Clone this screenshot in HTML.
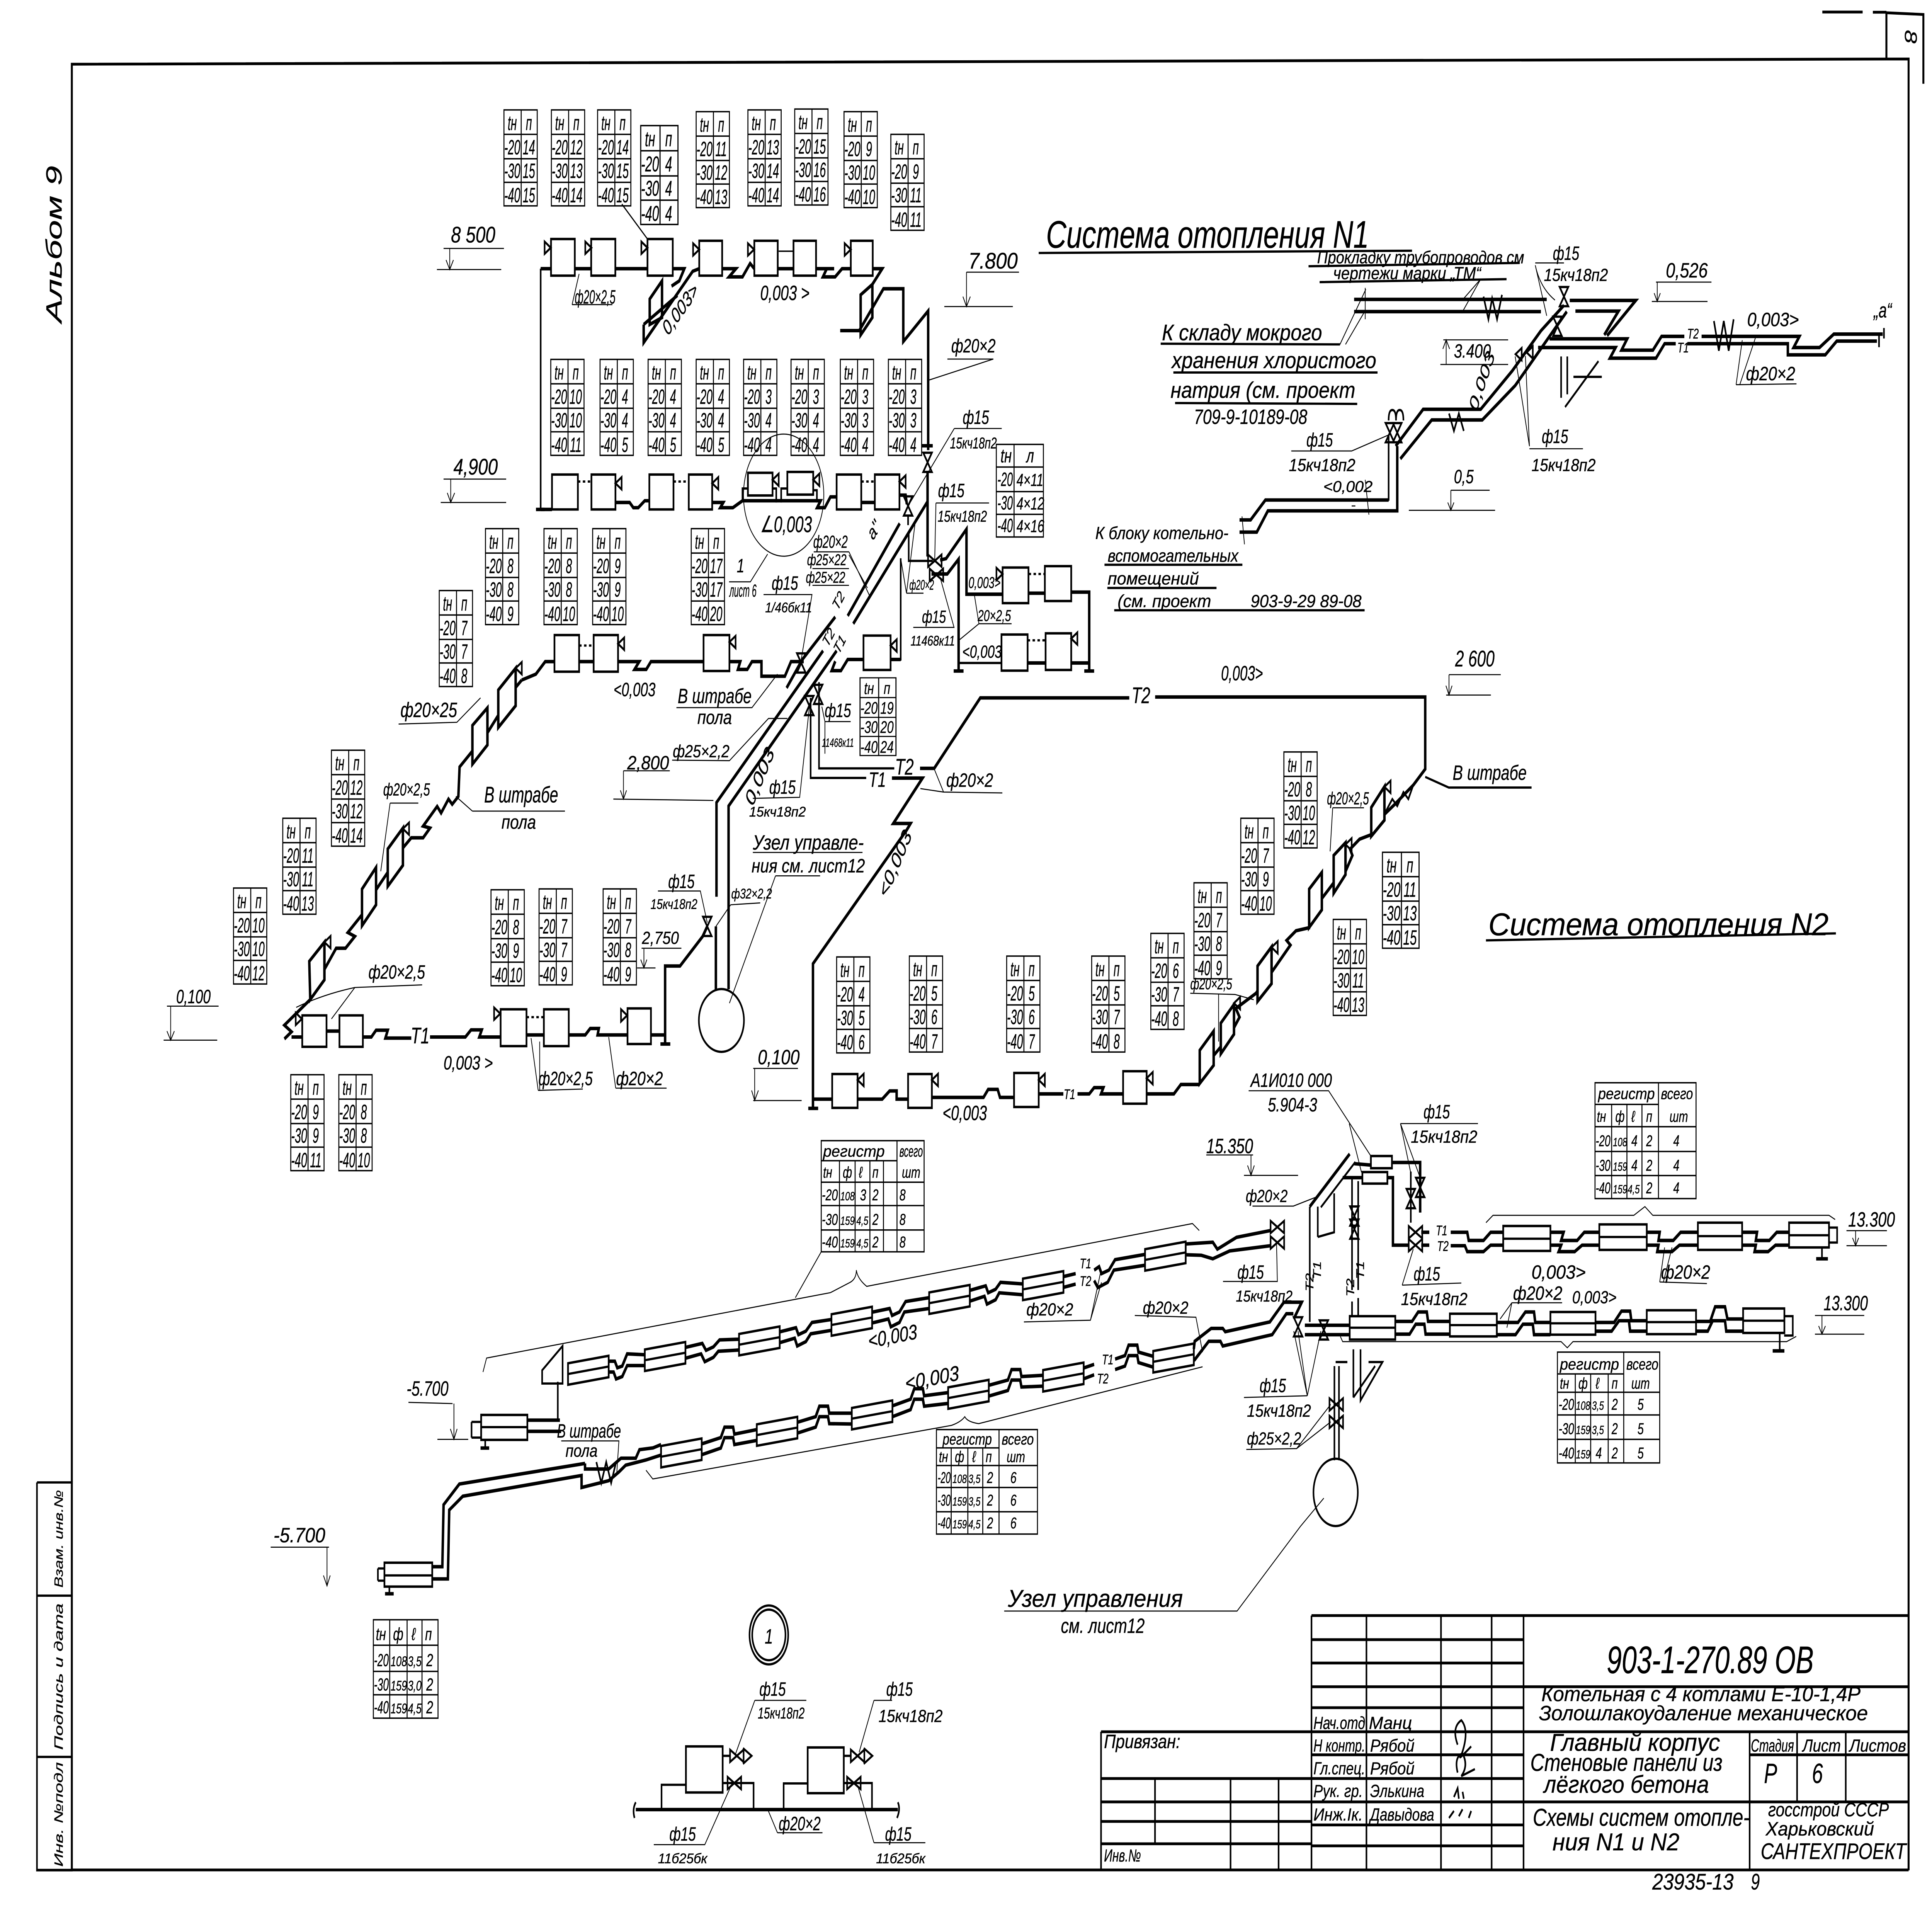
<!DOCTYPE html>
<html lang="ru"><head><meta charset="utf-8"><title>Схемы систем отопления</title>
<style>
html,body{margin:0;padding:0;background:#fff;width:100%;height:100%;overflow:hidden}
svg{display:block;width:100vw;height:100vh}
text{font-family:"Liberation Sans","DejaVu Sans",sans-serif;font-style:italic;fill:#000;stroke:#000;stroke-width:.12}
.a{text-anchor:middle}
.k text,text.k{text-anchor:middle;font-size:12px}
.f7{font-size:7px}.f8{font-size:8px}.f9{font-size:9px}.f10{font-size:10px}.f11{font-size:11px}.f12{font-size:12px}.f13{font-size:13px}.f14{font-size:14px}.f16{font-size:16px}.f18{font-size:18px}.f22{font-size:22px}.f26{font-size:26px}
path,line,rect,ellipse,polygon{fill:none;stroke:#000}
.p{stroke-width:2}.m{stroke-width:1.3}.t{stroke-width:.6}.g{stroke-width:.8}.fr{stroke-width:1.6}
.w{fill:#fff;stroke-width:1.4}
.b{fill:#000;stroke-width:.5}
symbol{overflow:visible}
</style></head><body>
<svg xmlns="http://www.w3.org/2000/svg" viewBox="0 0 1568 1098.2" preserveAspectRatio="none">
<symbol id="g" style="overflow:visible"><rect class="g" x="0" y="0" width="27" height="55"/><path class="g" d="M14 0V55M0 14H27M0 28H27M0 41.500H27"/></symbol>
<symbol id="vv" style="overflow:visible"><path class="m" d="M-3.500 -5.500H3.500L-3.500 5.500H3.500Z"/></symbol>
<symbol id="vh" style="overflow:visible"><path class="m" d="M-5.500 -3.500V3.500L5.500 -3.500V3.500Z"/></symbol>
<symbol id="tr" style="overflow:visible"><path class="m" d="M0 0L-5 -3.500V3.500Z"/></symbol>
<symbol id="tl" style="overflow:visible"><path class="m" d="M0 0L5 -3.500V3.500Z"/></symbol>
<symbol id="r" style="overflow:visible"><path class="w" d="M-16.500 -4L16.500 -8.300V4L-16.500 8.300Z"/><path class="m" d="M-16.500 2.150L16.500 -2.150"/></symbol>
<rect x="0" y="0" width="1568" height="1098" style="fill:#fff;stroke:none"/>

<!-- sheet frame -->
<path class="fr" d="M58.300 1072V36.800L1549 33.800V1072M58.300 1071.800H1549"/>
<path class="fr" d="M1531 33.800V7.300L1561 8.300V34.500M1561 34.500V48M1479 6.900H1511.700M1520 7H1531"/>
<text class="a f14" transform="translate(1546 21) rotate(90)">8</text>
<text class="f18" transform="translate(50 185) rotate(-90)" textLength="90" lengthAdjust="spacingAndGlyphs">Альбом 9</text>

<!-- left stamp -->
<path class="m" d="M30 849.700H59M30 914.600H59M30 1007H59M30 849.700V1072H59M30 1071.800H59"/>
<text class="a f10" transform="translate(51 882) rotate(-90)" textLength="56" lengthAdjust="spacingAndGlyphs">Взам. инв.№</text>
<text class="a f10" transform="translate(51 961) rotate(-90)" textLength="84" lengthAdjust="spacingAndGlyphs">Подпись и дата</text>
<text class="a f10" transform="translate(51 1040) rotate(-90)" textLength="60" lengthAdjust="spacingAndGlyphs">Инв. №подл</text>

<!-- tables: two column -->
<g transform="translate(409 63)"><use href="#g"/><g class="k" transform="scale(.75 1)"><text><tspan x="9" y="11.500">tн</tspan><tspan x="27">п</tspan><tspan x="9" y="25.500">-20</tspan><tspan x="27">14</tspan><tspan x="9" y="39">-30</tspan><tspan x="27">15</tspan><tspan x="9" y="53">-40</tspan><tspan x="27">15</tspan></text></g></g>
<g transform="translate(447.500 63)"><use href="#g"/><g class="k" transform="scale(.75 1)"><text><tspan x="9" y="11.500">tн</tspan><tspan x="27">п</tspan><tspan x="9" y="25.500">-20</tspan><tspan x="27">12</tspan><tspan x="9" y="39">-30</tspan><tspan x="27">13</tspan><tspan x="9" y="53">-40</tspan><tspan x="27">14</tspan></text></g></g>
<g transform="translate(485 63)"><use href="#g"/><g class="k" transform="scale(.75 1)"><text><tspan x="9" y="11.500">tн</tspan><tspan x="27">п</tspan><tspan x="9" y="25.500">-20</tspan><tspan x="27">14</tspan><tspan x="9" y="39">-30</tspan><tspan x="27">15</tspan><tspan x="9" y="53">-40</tspan><tspan x="27">15</tspan></text></g></g>
<g transform="translate(520 72) scale(1.120 1.030)"><use href="#g"/><g class="k" transform="scale(.75 1)"><text><tspan x="9" y="11.500">tн</tspan><tspan x="27">п</tspan><tspan x="9" y="25.500">-20</tspan><tspan x="27">4</tspan><tspan x="9" y="39">-30</tspan><tspan x="27">4</tspan><tspan x="9" y="53">-40</tspan><tspan x="27">4</tspan></text></g></g>
<g transform="translate(565 64)"><use href="#g"/><g class="k" transform="scale(.75 1)"><text><tspan x="9" y="11.500">tн</tspan><tspan x="27">п</tspan><tspan x="9" y="25.500">-20</tspan><tspan x="27">11</tspan><tspan x="9" y="39">-30</tspan><tspan x="27">12</tspan><tspan x="9" y="53">-40</tspan><tspan x="27">13</tspan></text></g></g>
<g transform="translate(607 63)"><use href="#g"/><g class="k" transform="scale(.75 1)"><text><tspan x="9" y="11.500">tн</tspan><tspan x="27">п</tspan><tspan x="9" y="25.500">-20</tspan><tspan x="27">13</tspan><tspan x="9" y="39">-30</tspan><tspan x="27">14</tspan><tspan x="9" y="53">-40</tspan><tspan x="27">14</tspan></text></g></g>
<g transform="translate(645 62.500)"><use href="#g"/><g class="k" transform="scale(.75 1)"><text><tspan x="9" y="11.500">tн</tspan><tspan x="27">п</tspan><tspan x="9" y="25.500">-20</tspan><tspan x="27">15</tspan><tspan x="9" y="39">-30</tspan><tspan x="27">16</tspan><tspan x="9" y="53">-40</tspan><tspan x="27">16</tspan></text></g></g>
<g transform="translate(685 64)"><use href="#g"/><g class="k" transform="scale(.75 1)"><text><tspan x="9" y="11.500">tн</tspan><tspan x="27">п</tspan><tspan x="9" y="25.500">-20</tspan><tspan x="27">9</tspan><tspan x="9" y="39">-30</tspan><tspan x="27">10</tspan><tspan x="9" y="53">-40</tspan><tspan x="27">10</tspan></text></g></g>
<g transform="translate(723 77)"><use href="#g"/><g class="k" transform="scale(.75 1)"><text><tspan x="9" y="11.500">tн</tspan><tspan x="27">п</tspan><tspan x="9" y="25.500">-20</tspan><tspan x="27">9</tspan><tspan x="9" y="39">-30</tspan><tspan x="27">11</tspan><tspan x="9" y="53">-40</tspan><tspan x="27">11</tspan></text></g></g>
<g transform="translate(447 206)"><use href="#g"/><g class="k" transform="scale(.75 1)"><text><tspan x="9" y="11.500">tн</tspan><tspan x="27">п</tspan><tspan x="9" y="25.500">-20</tspan><tspan x="27">10</tspan><tspan x="9" y="39">-30</tspan><tspan x="27">10</tspan><tspan x="9" y="53">-40</tspan><tspan x="27">11</tspan></text></g></g>
<g transform="translate(487 206)"><use href="#g"/><g class="k" transform="scale(.75 1)"><text><tspan x="9" y="11.500">tн</tspan><tspan x="27">п</tspan><tspan x="9" y="25.500">-20</tspan><tspan x="27">4</tspan><tspan x="9" y="39">-30</tspan><tspan x="27">4</tspan><tspan x="9" y="53">-40</tspan><tspan x="27">5</tspan></text></g></g>
<g transform="translate(526 206)"><use href="#g"/><g class="k" transform="scale(.75 1)"><text><tspan x="9" y="11.500">tн</tspan><tspan x="27">п</tspan><tspan x="9" y="25.500">-20</tspan><tspan x="27">4</tspan><tspan x="9" y="39">-30</tspan><tspan x="27">4</tspan><tspan x="9" y="53">-40</tspan><tspan x="27">5</tspan></text></g></g>
<g transform="translate(565 206)"><use href="#g"/><g class="k" transform="scale(.75 1)"><text><tspan x="9" y="11.500">tн</tspan><tspan x="27">п</tspan><tspan x="9" y="25.500">-20</tspan><tspan x="27">4</tspan><tspan x="9" y="39">-30</tspan><tspan x="27">4</tspan><tspan x="9" y="53">-40</tspan><tspan x="27">5</tspan></text></g></g>
<g transform="translate(603.500 206)"><use href="#g"/><g class="k" transform="scale(.75 1)"><text><tspan x="9" y="11.500">tн</tspan><tspan x="27">п</tspan><tspan x="9" y="25.500">-20</tspan><tspan x="27">3</tspan><tspan x="9" y="39">-30</tspan><tspan x="27">4</tspan><tspan x="9" y="53">-40</tspan><tspan x="27">4</tspan></text></g></g>
<g transform="translate(642 206)"><use href="#g"/><g class="k" transform="scale(.75 1)"><text><tspan x="9" y="11.500">tн</tspan><tspan x="27">п</tspan><tspan x="9" y="25.500">-20</tspan><tspan x="27">3</tspan><tspan x="9" y="39">-30</tspan><tspan x="27">4</tspan><tspan x="9" y="53">-40</tspan><tspan x="27">4</tspan></text></g></g>
<g transform="translate(682 206)"><use href="#g"/><g class="k" transform="scale(.75 1)"><text><tspan x="9" y="11.500">tн</tspan><tspan x="27">п</tspan><tspan x="9" y="25.500">-20</tspan><tspan x="27">3</tspan><tspan x="9" y="39">-30</tspan><tspan x="27">3</tspan><tspan x="9" y="53">-40</tspan><tspan x="27">4</tspan></text></g></g>
<g transform="translate(721 206)"><use href="#g"/><g class="k" transform="scale(.75 1)"><text><tspan x="9" y="11.500">tн</tspan><tspan x="27">п</tspan><tspan x="9" y="25.500">-20</tspan><tspan x="27">3</tspan><tspan x="9" y="39">-30</tspan><tspan x="27">3</tspan><tspan x="9" y="53">-40</tspan><tspan x="27">4</tspan></text></g></g>
<g transform="translate(394 303)"><use href="#g"/><g class="k" transform="scale(.75 1)"><text><tspan x="9" y="11.500">tн</tspan><tspan x="27">п</tspan><tspan x="9" y="25.500">-20</tspan><tspan x="27">8</tspan><tspan x="9" y="39">-30</tspan><tspan x="27">8</tspan><tspan x="9" y="53">-40</tspan><tspan x="27">9</tspan></text></g></g>
<g transform="translate(441.500 303)"><use href="#g"/><g class="k" transform="scale(.75 1)"><text><tspan x="9" y="11.500">tн</tspan><tspan x="27">п</tspan><tspan x="9" y="25.500">-20</tspan><tspan x="27">8</tspan><tspan x="9" y="39">-30</tspan><tspan x="27">8</tspan><tspan x="9" y="53">-40</tspan><tspan x="27">10</tspan></text></g></g>
<g transform="translate(481 303)"><use href="#g"/><g class="k" transform="scale(.75 1)"><text><tspan x="9" y="11.500">tн</tspan><tspan x="27">п</tspan><tspan x="9" y="25.500">-20</tspan><tspan x="27">9</tspan><tspan x="9" y="39">-30</tspan><tspan x="27">9</tspan><tspan x="9" y="53">-40</tspan><tspan x="27">10</tspan></text></g></g>
<g transform="translate(561 303)"><use href="#g"/><g class="k" transform="scale(.75 1)"><text><tspan x="9" y="11.500">tн</tspan><tspan x="27">п</tspan><tspan x="9" y="25.500">-20</tspan><tspan x="27">17</tspan><tspan x="9" y="39">-30</tspan><tspan x="27">17</tspan><tspan x="9" y="53">-40</tspan><tspan x="27">20</tspan></text></g></g>
<g transform="translate(356.500 338.500)"><use href="#g"/><g class="k" transform="scale(.75 1)"><text><tspan x="9" y="11.500">tн</tspan><tspan x="27">п</tspan><tspan x="9" y="25.500">-20</tspan><tspan x="27">7</tspan><tspan x="9" y="39">-30</tspan><tspan x="27">7</tspan><tspan x="9" y="53">-40</tspan><tspan x="27">8</tspan></text></g></g>
<g transform="translate(269 430)"><use href="#g"/><g class="k" transform="scale(.75 1)"><text><tspan x="9" y="11.500">tн</tspan><tspan x="27">п</tspan><tspan x="9" y="25.500">-20</tspan><tspan x="27">12</tspan><tspan x="9" y="39">-30</tspan><tspan x="27">12</tspan><tspan x="9" y="53">-40</tspan><tspan x="27">14</tspan></text></g></g>
<g transform="translate(229.500 469)"><use href="#g"/><g class="k" transform="scale(.75 1)"><text><tspan x="9" y="11.500">tн</tspan><tspan x="27">п</tspan><tspan x="9" y="25.500">-20</tspan><tspan x="27">11</tspan><tspan x="9" y="39">-30</tspan><tspan x="27">11</tspan><tspan x="9" y="53">-40</tspan><tspan x="27">13</tspan></text></g></g>
<g transform="translate(189.500 509)"><use href="#g"/><g class="k" transform="scale(.75 1)"><text><tspan x="9" y="11.500">tн</tspan><tspan x="27">п</tspan><tspan x="9" y="25.500">-20</tspan><tspan x="27">10</tspan><tspan x="9" y="39">-30</tspan><tspan x="27">10</tspan><tspan x="9" y="53">-40</tspan><tspan x="27">12</tspan></text></g></g>
<g transform="translate(398.500 510)"><use href="#g"/><g class="k" transform="scale(.75 1)"><text><tspan x="9" y="11.500">tн</tspan><tspan x="27">п</tspan><tspan x="9" y="25.500">-20</tspan><tspan x="27">8</tspan><tspan x="9" y="39">-30</tspan><tspan x="27">9</tspan><tspan x="9" y="53">-40</tspan><tspan x="27">10</tspan></text></g></g>
<g transform="translate(437.500 509.500)"><use href="#g"/><g class="k" transform="scale(.75 1)"><text><tspan x="9" y="11.500">tн</tspan><tspan x="27">п</tspan><tspan x="9" y="25.500">-20</tspan><tspan x="27">7</tspan><tspan x="9" y="39">-30</tspan><tspan x="27">7</tspan><tspan x="9" y="53">-40</tspan><tspan x="27">9</tspan></text></g></g>
<g transform="translate(489.500 509.500)"><use href="#g"/><g class="k" transform="scale(.75 1)"><text><tspan x="9" y="11.500">tн</tspan><tspan x="27">п</tspan><tspan x="9" y="25.500">-20</tspan><tspan x="27">7</tspan><tspan x="9" y="39">-30</tspan><tspan x="27">8</tspan><tspan x="9" y="53">-40</tspan><tspan x="27">9</tspan></text></g></g>
<g transform="translate(236 616)"><use href="#g"/><g class="k" transform="scale(.75 1)"><text><tspan x="9" y="11.500">tн</tspan><tspan x="27">п</tspan><tspan x="9" y="25.500">-20</tspan><tspan x="27">9</tspan><tspan x="9" y="39">-30</tspan><tspan x="27">9</tspan><tspan x="9" y="53">-40</tspan><tspan x="27">11</tspan></text></g></g>
<g transform="translate(275 616)"><use href="#g"/><g class="k" transform="scale(.75 1)"><text><tspan x="9" y="11.500">tн</tspan><tspan x="27">п</tspan><tspan x="9" y="25.500">-20</tspan><tspan x="27">8</tspan><tspan x="9" y="39">-30</tspan><tspan x="27">8</tspan><tspan x="9" y="53">-40</tspan><tspan x="27">10</tspan></text></g></g>
<g transform="translate(698 388.500) scale(1.080 .810)"><use href="#g"/><g class="k" transform="scale(.75 1)"><text><tspan x="9" y="11.500">tн</tspan><tspan x="27">п</tspan><tspan x="9" y="25.500">-20</tspan><tspan x="27">19</tspan><tspan x="9" y="39">-30</tspan><tspan x="27">20</tspan><tspan x="9" y="53">-40</tspan><tspan x="27">24</tspan></text></g></g>
<g transform="translate(679 548.500)"><use href="#g"/><g class="k" transform="scale(.75 1)"><text><tspan x="9" y="11.500">tн</tspan><tspan x="27">п</tspan><tspan x="9" y="25.500">-20</tspan><tspan x="27">4</tspan><tspan x="9" y="39">-30</tspan><tspan x="27">5</tspan><tspan x="9" y="53">-40</tspan><tspan x="27">6</tspan></text></g></g>
<g transform="translate(738 548)"><use href="#g"/><g class="k" transform="scale(.75 1)"><text><tspan x="9" y="11.500">tн</tspan><tspan x="27">п</tspan><tspan x="9" y="25.500">-20</tspan><tspan x="27">5</tspan><tspan x="9" y="39">-30</tspan><tspan x="27">6</tspan><tspan x="9" y="53">-40</tspan><tspan x="27">7</tspan></text></g></g>
<g transform="translate(817 548)"><use href="#g"/><g class="k" transform="scale(.75 1)"><text><tspan x="9" y="11.500">tн</tspan><tspan x="27">п</tspan><tspan x="9" y="25.500">-20</tspan><tspan x="27">5</tspan><tspan x="9" y="39">-30</tspan><tspan x="27">6</tspan><tspan x="9" y="53">-40</tspan><tspan x="27">7</tspan></text></g></g>
<g transform="translate(886 548)"><use href="#g"/><g class="k" transform="scale(.75 1)"><text><tspan x="9" y="11.500">tн</tspan><tspan x="27">п</tspan><tspan x="9" y="25.500">-20</tspan><tspan x="27">5</tspan><tspan x="9" y="39">-30</tspan><tspan x="27">7</tspan><tspan x="9" y="53">-40</tspan><tspan x="27">8</tspan></text></g></g>
<g transform="translate(934 535)"><use href="#g"/><g class="k" transform="scale(.75 1)"><text><tspan x="9" y="11.500">tн</tspan><tspan x="27">п</tspan><tspan x="9" y="25.500">-20</tspan><tspan x="27">6</tspan><tspan x="9" y="39">-30</tspan><tspan x="27">7</tspan><tspan x="9" y="53">-40</tspan><tspan x="27">8</tspan></text></g></g>
<g transform="translate(969 506)"><use href="#g"/><g class="k" transform="scale(.75 1)"><text><tspan x="9" y="11.500">tн</tspan><tspan x="27">п</tspan><tspan x="9" y="25.500">-20</tspan><tspan x="27">7</tspan><tspan x="9" y="39">-30</tspan><tspan x="27">8</tspan><tspan x="9" y="53">-40</tspan><tspan x="27">9</tspan></text></g></g>
<g transform="translate(1007 469)"><use href="#g"/><g class="k" transform="scale(.75 1)"><text><tspan x="9" y="11.500">tн</tspan><tspan x="27">п</tspan><tspan x="9" y="25.500">-20</tspan><tspan x="27">7</tspan><tspan x="9" y="39">-30</tspan><tspan x="27">9</tspan><tspan x="9" y="53">-40</tspan><tspan x="27">10</tspan></text></g></g>
<g transform="translate(1042 431)"><use href="#g"/><g class="k" transform="scale(.75 1)"><text><tspan x="9" y="11.500">tн</tspan><tspan x="27">п</tspan><tspan x="9" y="25.500">-20</tspan><tspan x="27">8</tspan><tspan x="9" y="39">-30</tspan><tspan x="27">10</tspan><tspan x="9" y="53">-40</tspan><tspan x="27">12</tspan></text></g></g>
<g transform="translate(1122 488.500) scale(1.100 1)"><use href="#g"/><g class="k" transform="scale(.75 1)"><text><tspan x="9" y="11.500">tн</tspan><tspan x="27">п</tspan><tspan x="9" y="25.500">-20</tspan><tspan x="27">11</tspan><tspan x="9" y="39">-30</tspan><tspan x="27">13</tspan><tspan x="9" y="53">-40</tspan><tspan x="27">15</tspan></text></g></g>
<g transform="translate(1082 527)"><use href="#g"/><g class="k" transform="scale(.75 1)"><text><tspan x="9" y="11.500">tн</tspan><tspan x="27">п</tspan><tspan x="9" y="25.500">-20</tspan><tspan x="27">10</tspan><tspan x="9" y="39">-30</tspan><tspan x="27">11</tspan><tspan x="9" y="53">-40</tspan><tspan x="27">13</tspan></text></g></g>

<!-- table 4x -->
<path class="g" d="M808.600 254.700H846.800V307.800H808.600ZM823 254.700V307.800M808.600 267.700H846.800M808.600 281.800H846.800M808.600 294.800H846.800"/>
<g class="f11"><text x="812" y="265">tн</text><text x="833" y="265">л</text><text x="809.500" y="278.500" textLength="12.500" lengthAdjust="spacingAndGlyphs">-20</text><text x="825" y="278.500" class="f10">4×11</text><text x="809.500" y="292" textLength="12.500" lengthAdjust="spacingAndGlyphs">-30</text><text x="825" y="292" class="f10">4×12</text><text x="809.500" y="305" textLength="12.500" lengthAdjust="spacingAndGlyphs">-40</text><text x="825" y="305" class="f10">4×16</text></g>

<!-- register tables -->
<path class="g" d="M666.500 653.800H750V717.500H666.500ZM666.500 665.300H728M666.500 677.600H750M666.500 691H750M666.500 705H750M728 653.800V717.500M681.300 665.300V717.500M694 665.300V717.500M706 665.300V717.500M717 665.300V717.500"/>
<g class="f9"><text x="668" y="663" textLength="50" lengthAdjust="spacingAndGlyphs">регистр</text><text x="730" y="663" textLength="19" lengthAdjust="spacingAndGlyphs">всего</text><text x="668" y="675">tн</text><text x="684" y="675">ф</text><text x="697" y="675">ℓ</text><text x="708" y="675">п</text><text x="732" y="675">шт</text>
<text x="667" y="688" textLength="13" lengthAdjust="spacingAndGlyphs">-20</text><text x="682" y="688" class="f7">108</text><text x="698" y="688">3</text><text x="708" y="688">2</text><text x="730" y="688">8</text>
<text x="667" y="702" textLength="13" lengthAdjust="spacingAndGlyphs">-30</text><text x="682" y="702" class="f7">159</text><text x="695" y="702" class="f7">4,5</text><text x="708" y="702">2</text><text x="730" y="702">8</text>
<text x="667" y="715" textLength="13" lengthAdjust="spacingAndGlyphs">-40</text><text x="682" y="715" class="f7">159</text><text x="695" y="715" class="f7">4,5</text><text x="708" y="715">2</text><text x="730" y="715">8</text></g>

<path class="g" d="M760 819.400H842V879.300H760ZM760 829.900H810.800M760 840H842M760 852.600H842M760 866.500H842M810.800 819.400V879.300M772 829.900V879.300M785.500 829.900V879.300M797.600 829.900V879.300"/>
<g class="f9"><text x="765" y="828" textLength="40" lengthAdjust="spacingAndGlyphs">регистр</text><text x="813" y="828" textLength="26" lengthAdjust="spacingAndGlyphs">всего</text><text x="762" y="838">tн</text><text x="775" y="838">ф</text><text x="789" y="838">ℓ</text><text x="800" y="838">п</text><text x="817" y="838">шт</text>
<text x="761" y="850" textLength="10.500" lengthAdjust="spacingAndGlyphs">-20</text><text x="773" y="850" class="f7">108</text><text x="786" y="850" class="f7">3,5</text><text x="801" y="850">2</text><text x="820" y="850">6</text>
<text x="761" y="863" textLength="10.500" lengthAdjust="spacingAndGlyphs">-30</text><text x="773" y="863" class="f7">159</text><text x="786" y="863" class="f7">3,5</text><text x="801" y="863">2</text><text x="820" y="863">6</text>
<text x="761" y="876" textLength="10.500" lengthAdjust="spacingAndGlyphs">-40</text><text x="773" y="876" class="f7">159</text><text x="786" y="876" class="f7">4,5</text><text x="801" y="876">2</text><text x="820" y="876">6</text></g>

<path class="g" d="M1294.500 620.600H1376.500V687H1294.500ZM1294.500 633H1346M1294.500 645.800H1376.500M1294.500 660H1376.500M1294.500 673.800H1376.500M1346 620.600V687M1308 633V687M1320.400 633V687M1332.600 633V687"/>
<g class="f9"><text x="1297" y="630" textLength="46" lengthAdjust="spacingAndGlyphs">регистр</text><text x="1348" y="630" textLength="26" lengthAdjust="spacingAndGlyphs">всего</text><text x="1296" y="643">tн</text><text x="1311" y="643">ф</text><text x="1324" y="643">ℓ</text><text x="1336" y="643">п</text><text x="1355" y="643">шт</text>
<text x="1295" y="657" textLength="12" lengthAdjust="spacingAndGlyphs">-20</text><text x="1309" y="657" class="f7">108</text><text x="1324" y="657">4</text><text x="1336" y="657">2</text><text x="1358" y="657">4</text>
<text x="1295" y="671" textLength="12" lengthAdjust="spacingAndGlyphs">-30</text><text x="1309" y="671" class="f7">159</text><text x="1324" y="671">4</text><text x="1336" y="671">2</text><text x="1358" y="671">4</text>
<text x="1295" y="684" textLength="12" lengthAdjust="spacingAndGlyphs">-40</text><text x="1309" y="684" class="f7">159</text><text x="1321" y="684" class="f7">4,5</text><text x="1336" y="684">2</text><text x="1358" y="684">4</text></g>

<path class="g" d="M1264 775H1347V838.500H1264ZM1264 787.500H1317.800M1264 798H1347M1264 811H1347M1264 825H1347M1317.800 775V838.500M1278.500 787.500V838.500M1291 787.500V838.500M1305.200 787.500V838.500"/>
<g class="f9"><text x="1266" y="785" textLength="48" lengthAdjust="spacingAndGlyphs">регистр</text><text x="1320" y="785" textLength="26" lengthAdjust="spacingAndGlyphs">всего</text><text x="1266" y="796">tн</text><text x="1281" y="796">ф</text><text x="1295" y="796">ℓ</text><text x="1308" y="796">п</text><text x="1324" y="796">шт</text>
<text x="1265" y="808" textLength="12.500" lengthAdjust="spacingAndGlyphs">-20</text><text x="1279" y="808" class="f7">108</text><text x="1292" y="808" class="f7">3,5</text><text x="1308" y="808">2</text><text x="1329" y="808">5</text>
<text x="1265" y="822" textLength="12.500" lengthAdjust="spacingAndGlyphs">-30</text><text x="1279" y="822" class="f7">159</text><text x="1292" y="822" class="f7">3,5</text><text x="1308" y="822">2</text><text x="1329" y="822">5</text>
<text x="1265" y="836" textLength="12.500" lengthAdjust="spacingAndGlyphs">-40</text><text x="1279" y="836" class="f7">159</text><text x="1295" y="836">4</text><text x="1308" y="836">2</text><text x="1329" y="836">5</text></g>

<path class="g" d="M303 928.400H355.500V984.800H303ZM303 943H355.500M303 958H355.500M303 971.400H355.500M316.300 928.400V984.800M330.400 928.400V984.800M342.500 928.400V984.800"/>
<g class="f10"><text x="305" y="940">tн</text><text x="319" y="940">ф</text><text x="334" y="940">ℓ</text><text x="345" y="940">п</text>
<text x="303.500" y="955" textLength="12" lengthAdjust="spacingAndGlyphs">-20</text><text x="317" y="955" class="f8">108</text><text x="331" y="955" class="f8">3,5</text><text x="346" y="955">2</text>
<text x="303.500" y="969" textLength="12" lengthAdjust="spacingAndGlyphs">-30</text><text x="317" y="969" class="f8">159</text><text x="331" y="969" class="f8">3,0</text><text x="346" y="969">2</text>
<text x="303.500" y="982" textLength="12" lengthAdjust="spacingAndGlyphs">-40</text><text x="317" y="982" class="f8">159</text><text x="331" y="982" class="f8">4,5</text><text x="346" y="982">2</text></g>

<!-- system 1 upper loop -->
<path class="m" d="M438.800 292V154"/>
<path class="p" d="M435 292H442M438.800 154H555.400L551.300 161L545 164M567.500 154H597.300L591.700 158.700H602.600L608.800 151L612.200 154H677L671 154L667.900 158.700H677.800L683.400 154H716L708 163"/>
<path class="p" d="M527.300 171.400L537.300 161V182L527.300 186ZM522.400 186L549.800 169.300M522.400 186V196.400L562.200 155.500L567.500 154"/>
<path class="p" d="M690.500 154H700"/>
<path class="p" d="M698.500 169L708 163V182L698.500 192ZM681.900 189.500H697.400L717 165.500H733.100V195.800L753.300 178.200V258"/>
<path class="p" d="M752.800 270V319"/>
<use href="#vv" x="752.800" y="265"/>
<path class="p" d="M748 255.500H757"/>
<rect class="w" x="447.200" y="137" width="19.300" height="21"/>
<rect class="w" x="479.800" y="137" width="19.600" height="21"/>
<rect class="w" x="525.500" y="137" width="20.500" height="21"/>
<rect class="w" x="567.500" y="138" width="18.600" height="20"/>
<rect class="w" x="612.200" y="138" width="19" height="20"/>
<rect class="w" x="644" y="138" width="18.300" height="20"/>
<rect class="w" x="690.500" y="138" width="17.800" height="20"/>
<path class="g" d="M632 144H644M504.700 117L525.500 137"/>
<use href="#tr" x="447" y="142"/><use href="#tr" x="480" y="142"/><use href="#tr" x="525.500" y="142"/><use href="#tr" x="567.500" y="143"/><use href="#tr" x="612" y="143"/><use href="#tr" x="690.500" y="143"/>
<path class="t" d="M464.300 174.600H497M464.300 174.600L470 157"/>
<text class="a f11" x="483" y="174" textLength="33" lengthAdjust="spacingAndGlyphs">ф20×2,5</text>
<text class="a f12" transform="rotate(-45 555 180)" x="555" y="180" textLength="36" lengthAdjust="spacingAndGlyphs">0,003&gt;</text>
<text class="a f12" x="637" y="172" textLength="40" lengthAdjust="spacingAndGlyphs">0,003 &gt;</text>

<!-- lower row -->
<path class="p" d="M438.800 292H448M500 288H511L514 291H518L523.300 287H527.400M577.700 288H587L584.600 291H594.800L602.600 287H666L663.200 291H669.400L674 284.800H679.400"/>
<path class="m" d="M602.600 287V280H607M627 280H630V288M634 288V280H639M660 281H663V288"/>
<rect class="w" x="448" y="272" width="21" height="20"/>
<rect class="w" x="480" y="272" width="19.500" height="20"/>
<rect class="w" x="527" y="272" width="19.600" height="20"/>
<rect class="w" x="559" y="272" width="19" height="20"/>
<rect class="w" x="607" y="271" width="20" height="13"/>
<rect class="w" x="639" y="270.500" width="21" height="13"/>
<rect class="w" x="679" y="272" width="20" height="20"/>
<rect class="w" x="710" y="272" width="20" height="20"/>
<path class="p" d="M699 288H710M730 283.800H735L736 289"/>
<path class="m" d="M469 276H480M546.600 276H559M699 276H710" stroke-dasharray="2 2"/>
<use href="#tl" x="499.500" y="277"/><use href="#tl" x="578" y="277"/><use href="#tl" x="627" y="275"/><use href="#tl" x="660" y="275"/><use href="#tl" x="730" y="276"/>
<use href="#vv" x="737" y="290"/>
<path class="m" d="M737 295V301"/>
<ellipse class="t" cx="636" cy="283.800" rx="32.600" ry="35"/>
<path class="t" d="M623 317.600L609 333.500H591.700"/>
<text class="a f13" x="638" y="305" textLength="42" lengthAdjust="spacingAndGlyphs">∠0,003</text>
<text class="a f11" x="601" y="328">1</text><text class="a f10" x="603" y="342" textLength="22" lengthAdjust="spacingAndGlyphs">лист 6</text>

<!-- central risers -->
<path class="p" d="M730.200 300L688 353M752.800 287.500L692.500 357.500M677.900 353.600L651.200 378L638.400 394.300"/>
<path class="p" d="M668 373L581.500 460V514M679 373L591.300 462V567M581 531V567"/>
<path class="m" d="M731 320V378H722.800M737.500 305.500V321.500H757"/>
<path class="p" d="M763 321L767.800 320.200L784.400 303.300V340.600H813.700M756 329H768.800L778 320.500V384.600"/>
<path class="m" d="M778 380H812.800"/>
<path class="p" d="M774 384.600H782M869.400 339.400H884V384.600M880 384.600H888M834.800 340H848M834 380H848.600M869.400 380H884"/>
<path class="m" d="M834.800 329H848M834 367H848.600" stroke-dasharray="2 2"/>
<rect class="w" x="813.700" y="325.300" width="21" height="20.400"/>
<rect class="w" x="848" y="324.500" width="21.400" height="20"/>
<rect class="w" x="812.800" y="363.700" width="21.200" height="20.700"/>
<rect class="w" x="848.600" y="363" width="20.800" height="21"/>
<use href="#tr" x="813.700" y="329"/><use href="#tl" x="869.400" y="366"/>
<use href="#vh" x="758.700" y="321.400"/><use href="#vh" x="760" y="329.500"/>
<path class="p" d="M652.300 379.200H642L637 387.600H618V379.200H610.300L606.500 383.700H598.900L600.800 379.200H592"/>
<path class="p" d="M423.400 389.800L434.900 386.400L442.500 379.200H450M470 379.200H482M501.600 379.200H518.800L515 383.700H524.500L528.300 379.200H571"/>
<path class="p" d="M677.900 379L675 384.400H682.500L688 378H700.800M722.800 378H731"/>
<rect class="w" x="450" y="364" width="20" height="21"/>
<rect class="w" x="481.800" y="364" width="19.800" height="21"/>
<rect class="w" x="571" y="364" width="21" height="20.600"/>
<rect class="w" x="700.800" y="364.300" width="22" height="19.700"/>
<path class="m" d="M470 370H482" stroke-dasharray="2 2"/>
<use href="#tl" x="501.600" y="369"/><use href="#tl" x="592" y="368"/><use href="#tl" x="722.800" y="370"/>
<use href="#vv" x="650.300" y="380"/><use href="#vv" x="656.800" y="404.400"/><use href="#vv" x="664" y="398"/>
<path class="m" d="M657.900 400V445.900H703M664.700 391V440.400H725.800"/>
<path class="p" d="M723.900 446H748.700L725 472H739L736 475.600L659.800 552.400V635M656 635.300H664M660 630H675.400M696 630H716L722 625.300H727.700V630H737M756.300 629H798.200L802 624.400H809.700L811.600 629H823M843 627H863M874.500 627H884L888 623.400H895.500L893.600 627H911.500M930.600 627H952.700L958.400 621.600H973.700"/>
<path class="p" d="M746.700 440.400H758.200L795.600 400H916.500M937.500 399.500H1156.700V440.800L1147 450L1132 461L1124 466.500"/>
<rect class="w" x="675.400" y="615.600" width="20.600" height="19.400"/>
<rect class="w" x="737" y="615.600" width="19.300" height="19.400"/>
<rect class="w" x="823" y="615" width="20" height="19.500"/>
<rect class="w" x="911.500" y="614" width="19.100" height="18.600"/>
<use href="#tl" x="696" y="619"/><use href="#tl" x="756.300" y="619"/><use href="#tl" x="843" y="619"/><use href="#tl" x="930.600" y="618"/>

<!-- system 2 rising -->
<path class="p" d="M973.700 602L985 591V610.600L973.700 621ZM990.800 586.400L1001.500 575.700V592.800L990.800 604ZM1020.600 553.700L1032 542.700V563.800L1020.600 574ZM1062.500 509.600L1072.800 500V521.500L1062.500 531.600ZM1082.400 490.300L1092 483V501.300L1082.400 512ZM1112.900 462.800L1123.600 450.900V470.100L1112.900 479.300Z"/>
<path class="p" d="M985 605L990.800 600M1001.500 589L1006 583L1003 578L1019.400 569.300L1020.600 568M1032 557.300L1047.300 541.700L1044.200 539L1051.800 533.500L1063.300 531.600M1072.800 515L1082.400 506M1092 499.500L1097.600 490.300L1095.700 486.700L1103.400 481L1112.900 478.400"/>
<path class="m" d="M1124 466L1130 458L1134 462L1139 454L1143 458L1147 450M1156.700 445.300L1175.800 451.400H1243"/>
<use href="#tl" x="1001.500" y="575"/><use href="#tl" x="1032" y="543"/><use href="#tl" x="1092" y="484"/><use href="#tl" x="1123.600" y="451"/>

<!-- left branch T1 -->
<path class="p" d="M230.800 595.500L236.600 591.400L230.800 587.600L251.800 572.900M245.300 594.400H236.600M265 591H275.500M294.500 594.400H301.400L305.200 590.500H314.700L312.800 595H333.800M349 594.400H377.700L382.300 590.300H391L389 594.400H406.300M427.300 593.200H441.400M461.600 593.200H475L479 589.500H486L485 593.200H509.300M528.300 593.200H539.800M536 598.400H544M539.800 598.400V553.700H551.900L570.300 536.700L574 531"/>
<path class="p" d="M251 551L263.300 540V561.600L251.800 572.900ZM293.800 509.600L305.200 497.200V518.600L293.800 530.600ZM314.700 486.600L327 474.600V496L314.700 508ZM383.400 415.800L395.600 405.700V427L383.400 438ZM404.400 395.500L418.500 383V404.500L404.400 417Z"/>
<path class="p" d="M263 556L272.800 543.500H280.400L288 536.700L282.300 534.500L293.800 524.300M305.200 510L314.700 500M327 486L333.800 480.200H343.400L349 474.600L343.400 473.500L354.800 462.200L358 466L364 458L367 461L372 456.500L373 439.600L383.400 430.500M395.600 420L404.400 410M418.500 394L423.400 389.800"/>
<rect class="w" x="245.300" y="582" width="19.700" height="18"/>
<rect class="w" x="275.500" y="582" width="19" height="18"/>
<rect class="w" x="406.300" y="578.500" width="21" height="21.100"/>
<rect class="w" x="441.400" y="578.500" width="20.200" height="21.100"/>
<rect class="w" x="509.300" y="578" width="19" height="20.400"/>
<path class="m" d="M427.300 583H441.400" stroke-dasharray="2 2"/>
<use href="#tr" x="245" y="584"/><use href="#tr" x="406" y="581"/><use href="#tr" x="509" y="582"/>
<use href="#tl" x="263.300" y="540"/><use href="#tl" x="327" y="475"/><use href="#tl" x="418.500" y="383"/>
<use href="#vv" x="574" y="531"/>
<ellipse class="m" cx="585.500" cy="584.900" rx="18.300" ry="18"/>
<path class="t" d="M323.500 415L370.800 414L390 400M316.600 460.300H339.500M316.600 460.300L309 499.400M383.400 464.900H458.500M383.400 464.900L370 456.500M288 566L342.600 564.500M288 566L269 584M288 566Q262 570 240.400 577.400M135.500 576.700H177.400M132.800 596.200H176.300M138.500 576.700V596.200M135.500 591L138.500 596.200L141.500 591M436.800 625L473 624.200M436.800 625L431 595M438 625V597M499.700 623.700H541M499.700 623.700L494 594.400M520.700 543.500H553M517 554.800H532M522.600 543.500V554.800M520 550L522.600 554.800L525 550M534 510.700H568.400L574 528.800M593 518.600L617 517.500M593 518.600L581 531M611 488.600H700M629.400 502H665.600M629.400 502L592 575M506 441.800H543.600M497.800 458L579 458.800M506 441.800V458M503.500 453L506 458L508.500 453M545.500 435.700L592 436L623.700 411.800H639M611 457.600L649 457L657 404.500M669.500 413.600H690.400M667 405L669.500 413.600V432M549 405.600H610.300L631 386.400"/>
<text class="a f12" x="348" y="411" textLength="46" lengthAdjust="spacingAndGlyphs">ф20×25</text>
<text class="a f10" x="330" y="456" textLength="38" lengthAdjust="spacingAndGlyphs">ф20×2,5</text>
<text class="a f13" x="423" y="460" textLength="60" lengthAdjust="spacingAndGlyphs">В штрабе</text><text class="a f11" x="421" y="475" textLength="28" lengthAdjust="spacingAndGlyphs">пола</text>
<text class="a f11" x="322" y="561" textLength="46" lengthAdjust="spacingAndGlyphs">ф20×2,5</text>
<text class="a f11" x="157" y="575" textLength="28" lengthAdjust="spacingAndGlyphs">0,100</text>
<text class="a f13" x="341" y="598">T1</text>
<text class="a f11" x="380" y="613" textLength="40" lengthAdjust="spacingAndGlyphs">0,003 &gt;</text>
<text class="a f11" x="459" y="622" textLength="44" lengthAdjust="spacingAndGlyphs">ф20×2,5</text>
<text class="a f11" x="519" y="622" textLength="38" lengthAdjust="spacingAndGlyphs">ф20×2</text>
<text class="a f10" x="536" y="541" textLength="30" lengthAdjust="spacingAndGlyphs">2,750</text>
<text class="a f11" x="553" y="509">ф15</text><text class="a f8" x="547" y="521" textLength="38" lengthAdjust="spacingAndGlyphs">15кч18п2</text>
<text class="a f8" x="610" y="515" textLength="33" lengthAdjust="spacingAndGlyphs">ф32×2,2</text>
<text class="a f12" x="656" y="487" textLength="90" lengthAdjust="spacingAndGlyphs">Узел управле-</text>
<text class="a f11" x="656" y="500" textLength="92" lengthAdjust="spacingAndGlyphs">ния см. лист12</text>
<text class="a f11" x="526" y="441" textLength="34" lengthAdjust="spacingAndGlyphs">2,800</text>
<text class="a f10" x="569" y="434" textLength="46" lengthAdjust="spacingAndGlyphs">ф25×2,2</text>
<text class="a f12" transform="rotate(-60 620 447)" x="620" y="447" textLength="36" lengthAdjust="spacingAndGlyphs">0,003</text>
<text class="a f11" x="635" y="455">ф15</text><text class="a f8" x="631" y="468" textLength="46" lengthAdjust="spacingAndGlyphs">15кч18п2</text>
<text class="a f11" x="680" y="411">ф15</text><text class="a f7" x="680" y="428" textLength="26" lengthAdjust="spacingAndGlyphs">11468к11</text>
<text class="a f12" x="580" y="403" textLength="60" lengthAdjust="spacingAndGlyphs">В штрабе</text><text class="a f11" x="580" y="415" textLength="28" lengthAdjust="spacingAndGlyphs">пола</text>
<text class="a f11" x="515" y="399" textLength="34" lengthAdjust="spacingAndGlyphs">&lt;0,003</text>

<!-- center labels -->
<path class="t" d="M660.400 316.300H689M659.400 325.900H689M659.400 335.500H689M689 316.300L706.300 342.300M689 318L704 337M619.700 340.800H659L650.300 377.900M759.600 288.300H802.700M759.600 288.300L758.600 321.400M774.500 245.600H813M774.500 245.600L737 290M794.500 357.500H821M790.800 341L794.500 357.500L778.900 366.600M741.200 359.600H774.300L763.200 331.500M735.700 340H749.500M735.700 340L731 320M735.700 340L743 298M768.900 205.800H806.200L753.300 218"/>
<text class="a f10" x="674" y="314" textLength="28" lengthAdjust="spacingAndGlyphs">ф20×2</text>
<text class="a f9" x="671" y="324" textLength="32" lengthAdjust="spacingAndGlyphs">ф25×22</text>
<text class="a f9" x="670" y="334" textLength="32" lengthAdjust="spacingAndGlyphs">ф25×22</text>
<text class="a f11" transform="rotate(-50 712 306)" x="712" y="306">а''</text>
<text class="a f9" transform="rotate(-55 683 346)" x="683" y="346">T2</text>
<text class="a f9" transform="rotate(-55 675 367)" x="675" y="367">T2</text>
<text class="a f9" transform="rotate(-55 684 371)" x="684" y="371">T1</text>
<text class="a f11" x="637" y="338">ф15</text><text class="a f8" x="640" y="351" textLength="38" lengthAdjust="spacingAndGlyphs">1/46бк11</text>
<text class="a f11" x="772" y="285">ф15</text><text class="a f9" x="781" y="299" textLength="40" lengthAdjust="spacingAndGlyphs">15кч18п2</text>
<text class="a f11" x="792" y="243">ф15</text><text class="a f9" x="790" y="257" textLength="38" lengthAdjust="spacingAndGlyphs">15кч18п2</text>
<text class="a f9" x="799" y="337" textLength="26" lengthAdjust="spacingAndGlyphs">0,003&gt;</text>
<text class="a f9" x="807" y="356" textLength="27" lengthAdjust="spacingAndGlyphs">20×2,5</text>
<text class="a f10" x="797" y="377" textLength="32" lengthAdjust="spacingAndGlyphs">&lt;0,003</text>
<text class="a f10" x="758" y="357">ф15</text><text class="a f8" x="757" y="370" textLength="36" lengthAdjust="spacingAndGlyphs">11468к11</text>
<text class="a f8" x="748" y="338" textLength="20" lengthAdjust="spacingAndGlyphs">ф20×2</text>
<text class="a f11" x="790" y="202" textLength="36" lengthAdjust="spacingAndGlyphs">ф20×2</text>

<!-- level marks -->
<path class="t" d="M360 142.400H409M354.600 154.500H406.800M365 142.400V154.500M362 149L365 154.500L368 149M784.400 156H827M766.400 175.700H822M784.400 156V175.700M781.500 170L784.400 175.700L787.500 170M360 274.600H410.800M357.700 288H410.800M365.800 274.600V288M363 282.500L365.800 288L369 282.500"/>
<text class="a f13" x="384" y="139" textLength="36" lengthAdjust="spacingAndGlyphs">8 500</text>
<text class="a f13" x="806" y="154" textLength="40" lengthAdjust="spacingAndGlyphs">7.800</text>
<text class="a f13" x="386" y="272" textLength="36" lengthAdjust="spacingAndGlyphs">4,900</text>

<!-- T1 T2 labels, system 2 -->
<text class="a f13" x="734" y="444">T2</text><text class="a f12" x="712" y="451">T1</text>
<text class="a f13" x="926" y="403">T2</text>
<text class="a f12" x="1008" y="390" textLength="34" lengthAdjust="spacingAndGlyphs">0,003&gt;</text>
<text class="a f11" x="787" y="451" textLength="38" lengthAdjust="spacingAndGlyphs">ф20×2</text>
<path class="t" d="M765.800 454L813.500 454.500M758 440.400L765.800 454M747 452L765.800 454"/>
<text class="a f12" transform="rotate(-60 730 497)" x="730" y="497" textLength="42" lengthAdjust="spacingAndGlyphs">&lt;0,003</text>
<text class="a f12" x="632" y="610" textLength="34" lengthAdjust="spacingAndGlyphs">0,100</text>
<path class="t" d="M611.300 612.400H647.600M611.300 630.800H650.600M612.500 612.400V630.800M610 625L612.500 630.800L615.500 625M1176 386.700H1218M1173.700 398.400H1210M1176 386.700V398.400M1173.500 393L1176 398.400L1178.500 393"/>
<text class="a f12" x="783" y="642" textLength="36" lengthAdjust="spacingAndGlyphs">&lt;0,003</text>
<text class="a f8" x="868" y="630">T1</text>
<text class="a f13" x="1197" y="382" textLength="32" lengthAdjust="spacingAndGlyphs">2 600</text>
<text class="a f12" x="1209" y="447" textLength="60" lengthAdjust="spacingAndGlyphs">В штрабе</text>
<text class="a f10" x="1094" y="461" textLength="34" lengthAdjust="spacingAndGlyphs">ф20×2,5</text>
<path class="t" d="M1081.600 463H1107M1081.600 463L1079.500 488M966 569.300L1002.300 570L1017.500 573M989 570V597"/>
<text class="a f9" x="983" y="567" textLength="34" lengthAdjust="spacingAndGlyphs">ф20×2,5</text>

<!-- titles -->
<text class="f22" x="849" y="142" textLength="262" lengthAdjust="spacingAndGlyphs">Система отопления N1</text>
<path class="m" d="M843 145L1146 143.700M1206 539L1490 535"/>
<text class="f18" x="1208" y="536" textLength="276" lengthAdjust="spacingAndGlyphs">Система отопления N2</text>

<!-- top right system 1 -->
<path class="m" d="M1062 152.600L1233.400 150.700M1071 161.700L1222.700 160M942 197L1087.500 197.400M952.300 213.500H1118M953.700 231L1101.500 231.500M896.400 323.700H1008.300M898.700 337H987.300M904.300 349.800H1107.500"/>
<text class="a f10" x="1153" y="151" textLength="168" lengthAdjust="spacingAndGlyphs">Прокладку трубопроводов см</text>
<text class="a f10" x="1142" y="160" textLength="120" lengthAdjust="spacingAndGlyphs">чертежи марки „ТМ“</text>
<text class="a f13" x="1008" y="195" textLength="130" lengthAdjust="spacingAndGlyphs">К складу мокрого</text>
<text class="a f13" x="1034" y="211" textLength="166" lengthAdjust="spacingAndGlyphs">хранения хлористого</text>
<text class="a f13" x="1025" y="228" textLength="150" lengthAdjust="spacingAndGlyphs">натрия (см. проект</text>
<text class="a f12" x="1015" y="243" textLength="92" lengthAdjust="spacingAndGlyphs">709-9-10189-08</text>
<text class="a f11" x="1071" y="256">ф15</text><text class="a f10" x="1073" y="270" textLength="54" lengthAdjust="spacingAndGlyphs">15кч18п2</text>
<text class="a f9" x="1094" y="282" textLength="40" lengthAdjust="spacingAndGlyphs">&lt;0,002</text>
<text class="a f11" x="1188" y="277" textLength="16" lengthAdjust="spacingAndGlyphs">0,5</text>
<text class="a f10" x="943" y="309" textLength="108" lengthAdjust="spacingAndGlyphs">К блоку котельно-</text>
<text class="a f10" x="952" y="322" textLength="106" lengthAdjust="spacingAndGlyphs">вспомогательных</text>
<text class="a f10" x="936" y="335" textLength="74" lengthAdjust="spacingAndGlyphs">помещений</text>
<text class="a f10" x="945" y="348" textLength="76" lengthAdjust="spacingAndGlyphs">(см. проект</text>
<text class="a f10" x="1060" y="348" textLength="90" lengthAdjust="spacingAndGlyphs">903-9-29 89-08</text>
<text class="a f12" x="1369" y="159" textLength="34" lengthAdjust="spacingAndGlyphs">0,526</text>
<text class="a f11" x="1271" y="149">ф15</text><text class="a f10" x="1279" y="161" textLength="52" lengthAdjust="spacingAndGlyphs">15кч18п2</text>
<text class="a f11" x="1195" y="205" textLength="30" lengthAdjust="spacingAndGlyphs">3.400</text>
<text class="a f11" transform="rotate(-65 1206 220)" x="1206" y="220" textLength="36" lengthAdjust="spacingAndGlyphs">0,003</text>
<text class="a f11" x="1262" y="254">ф15</text><text class="a f10" x="1269" y="270" textLength="52" lengthAdjust="spacingAndGlyphs">15кч18п2</text>
<text class="a f11" x="1439" y="187" textLength="42" lengthAdjust="spacingAndGlyphs">0,003&gt;</text>
<text class="a f11" x="1437" y="218" textLength="40" lengthAdjust="spacingAndGlyphs">ф20×2</text>
<text class="a f12" x="1528" y="182">„а“</text>
<text class="a f8" x="1374" y="194">T2</text><text class="a f8" x="1366" y="202">T1</text>
<path class="p" d="M1099 171.600H1255.300M1099 178.600H1250.600"/>
<path class="t" d="M1087.500 197.400L1108.500 165.800M1092 197.400L1108 178M1108 165V183M1201.700 160L1187.700 171.300M1201.700 160L1186.300 179.500M1246 150.700H1269.300M1246 152L1255.300 181M1246 152Q1250 165 1262 172M1171.400 194.800H1224M1169 208.900H1224M1173.700 194.800V208.900M1171 200L1173.700 194.800L1176.500 200M1241.300 257.200H1284.700M1241.300 255.800L1229.700 204.300M1241.300 255.800L1238 204M1344 161.700H1389M1340.600 172.800H1385.800M1345 161.700V172.800M1342.500 168L1345 172.800L1347.500 168M1177.500 281H1209M1143.400 292.500H1213.400M1177.500 281V292.500M1175 288L1177.500 292.500L1180 288M1048 258.500H1097L1127 249.300M1409 220.500L1458 220M1409 220.500L1414 195M1412 220.500L1425 193"/>
<path class="m" d="M1204 170L1208 183L1211 171L1215 183L1219 169M1391 184L1395 201L1399 184L1403 201L1407 183M1176 237L1180 247L1184 237L1188 247"/>
<path class="p" d="M1132.700 255.700L1155 234.600H1201.700L1227.300 212.600L1250.600 189.600L1269.300 175M1136.500 263L1162 240.700H1203L1229.700 221L1271.600 178.600M1006 298H1015L1027 286.600H1127M1006 305H1020L1029 292.800H1134V255.700"/>
<path class="m" d="M1127 287V250"/>
<path class="p" d="M1274 172.200H1327.600L1304.300 192.400M1278.600 178.300H1313.600L1302 192"/>
<path class="p" d="M1257.600 194.200H1320.600L1316 200.700H1341.500L1348.500 192.800H1367M1381 192.800H1460.400L1455.700 199.200H1476.700L1488.300 191.500H1528M1248.300 199.200H1311.200L1306.600 205.300H1344L1351 197H1360M1369.500 197H1451V203.400H1481.400L1490.700 195.500H1523.300"/>
<path class="m" d="M1127 241Q1127 235 1130 235Q1133 235 1133 241M1133 241Q1133 235 1136 235Q1139 235 1139 241M1529 188V194M1525 192V199"/>
<use href="#vv" x="1128" y="248"/><use href="#vv" x="1134" y="248"/>
<use href="#vv" x="1269.300" y="170"/><use href="#vv" x="1264" y="187"/>
<use href="#tl" x="1230" y="203"/><use href="#tl" x="1239" y="202"/>
<path class="m" d="M1267 204.300V228M1272 204.300V226M1270.200 233.300L1297.300 207M1277 216H1300"/>
<path class="t" d="M1008 296L1010 312M1108 275L1111 295M1097 290H1100"/>

<!-- bottom: left small registers -->
<path class="p" d="M428 814H454.400M428 820.400H455.400"/>
<path class="m" d="M440 785.400L456.600 771.500V793H440ZM452.700 792V815M382.700 815H390.500M382.700 824H390.500M382.700 815V824M393.800 825V830"/>
<path class="p" d="M390 830H397"/>
<rect class="w" x="390.500" y="811" width="37.500" height="14.300"/>
<path class="m" d="M390.500 818H428"/>
<path class="p" d="M350.800 898H359L360 862.500L372.800 850.600L474.800 838.800M350.800 905H363.500L364.600 865.500L375.600 857.600L472 845.700V852.600L494 848.700L502.300 843.700L507.800 839.800L524.300 836.800L536.500 834M474.800 838.800V842H487L494 842L504 835.800H516L519 830.900L530 829.900L536.500 828"/>
<path class="m" d="M484 838L488 850L492 838L496 850L500 838"/>
<rect class="w" x="312" y="895.700" width="38.800" height="13.700"/>
<path class="m" d="M312 903H350.800M306.700 899H312M306.700 906H312M306.700 899V906M316 909.400V913"/>
<path class="p" d="M312.500 913.500H319.500"/>
<use href="#r" x="477.500" y="785.400"/><use href="#r" x="539.800" y="777.500"/><use href="#r" x="616.300" y="768.600"/><use href="#r" x="691.300" y="757.300"/><use href="#r" x="770.600" y="744.800"/><use href="#r" x="846.600" y="736.900"/><use href="#r" x="945.800" y="720"/>
<use href="#r" x="553" y="832.800"/><use href="#r" x="630.700" y="820.400"/><use href="#r" x="707.800" y="811"/><use href="#r" x="786" y="799.200"/><use href="#r" x="863" y="789.300"/><use href="#r" x="952.400" y="778.400"/>
<path class="p" d="M494 780.200H499L501 784L505 783L509 776L523.300 776.500M556.300 772.300L570 770L573 774L579 772L584 768L599.800 767.600M632.800 763.400L646 761L648 765L654 763L659 758L674.800 756.300M707.800 752.100L722 750L724 754L730 752L735 746L754.100 743.800M787.100 739.600L800 737L802 741L808 739L812 735L830.100 735.900M863.100 731.700L873 730M888 728L892 726L894 730L900 728L905 722L929.300 719"/>
<path class="p" d="M494 786.400H498L500 790.400L505 789L509 782.700L523.300 782.700M556.300 778.500L569 776L572 780.500L579 778L583 774.500L599.800 773.800M632.800 769.600L645 767L647 771.500L654 769L658 764.500L674.800 762.500M707.800 758.300L721 756L723 760.500L730 758L734 752L754.100 750M787.100 745.800L799 743L801 747.500L808 745L811 741L830.100 742.100M863.100 737.900L873 736M888 734L891 738L899 735L904 728L929.300 725.200"/>
<path class="p" d="M569.500 827.600L585 824L588 818H595L596 822L614.200 819.400M647.200 815.200L662 812L665 806H672L673 810L691.300 810M724.300 805.800L739 802L742 796H749L750 800L769.500 798.200M802.500 794L818 791L821 785H828L829 789L846.500 788.300M879.500 784.100L888 782M905 779L913 777L916 771H923L924 775L935.900 777.400"/>
<path class="p" d="M569.500 833.800L585 830L588 824H595L596 828L614.200 825.600M647.200 821.400L662 818L665 812H672L673 816L691.300 816.200M724.300 812L739 808L742 802H749L750 806L769.500 804.400M802.500 800.200L818 797L821 791H828L829 795L846.500 794.500M879.500 790.300L888 788M905 785L913 783L916 777H923L924 781L935.900 783.600"/>
<path class="p" d="M962.300 713L984.300 712L988 716L1003.600 709.200L1031.200 705.300M962.300 719.200L975 719.500L984.300 721.500L998 717L1031.200 714"/>
<use href="#vh" x="1036.700" y="703.300"/><use href="#vh" x="1036.700" y="712.200"/>
<path class="p" d="M968.900 773.200L969.600 768.800L983 761.400H992.400L994.400 763.300L1030.600 757.700L1042 746.400H1056.500L1050 756M968.900 779.400H969.600L981 768.800H990.500L992.400 771.500L1032.500 765L1044 753H1049.700"/>
<path class="t" d="M392 786.400L394.900 778.400L674 740.900M674 740.900L690 735Q695 733 695 728Q696 733 703.400 737.300L967.800 701.300L973.300 705.300M666.500 717.500L645.500 743.800M524.300 842.700L529.800 847.700L772.200 817Q780 815 783 812Q785 815 794.300 816L976 783.400"/>
<path class="t" d="M831 757.700L885 756.700L893 730M885 756.700L894 735M992.600 734.500H1036.700L1036 712M921 754L970.600 755L976 775M331.500 803.800L367.300 804.500M355 825H380M368.400 804.500V825M365.500 819L368.400 825L371 819M219.700 886.800H267M265.400 886.800V909M262.500 903L265.400 909L268 903M455.500 825.900H502.300L500.500 845"/>
<text class="a f12" x="347" y="800" textLength="34" lengthAdjust="spacingAndGlyphs">-5.700</text>
<text class="a f12" x="243" y="884" textLength="42" lengthAdjust="spacingAndGlyphs">-5.700</text>
<text class="a f11" x="478" y="824" textLength="52" lengthAdjust="spacingAndGlyphs">В штрабе</text>
<text class="a f10" x="472" y="835" textLength="26" lengthAdjust="spacingAndGlyphs">пола</text>
<text class="a f12" transform="rotate(-8 725 770)" x="725" y="770" textLength="40" lengthAdjust="spacingAndGlyphs">&lt;0,003</text>
<text class="a f12" transform="rotate(-8 757 794)" x="757" y="794" textLength="44" lengthAdjust="spacingAndGlyphs">&lt;0,003</text>
<text class="a f8" x="881" y="727">T1</text><text class="a f8" x="881" y="737">T2</text>
<text class="a f8" x="899" y="782">T1</text><text class="a f8" x="895" y="793">T2</text>
<text class="a f10" x="852" y="754" textLength="38" lengthAdjust="spacingAndGlyphs">ф20×2</text>
<text class="a f10" x="946" y="753" textLength="37" lengthAdjust="spacingAndGlyphs">ф20×2</text>
<text class="a f11" x="1015" y="733">ф15</text><text class="a f9" x="1026" y="746" textLength="46" lengthAdjust="spacingAndGlyphs">15кч18п2</text>

<!-- right group -->
<path class="p" d="M1063 691.600L1095.400 661.400M1099.200 667L1112.600 667.800M1089.700 675H1105.700M1129.700 666.300H1152.600V695M1126 675H1130.500V713.700H1143"/>
<path class="m" d="M1063 691.600V757.700M1069.500 691.600V709M1082.800 684V706.300L1069.500 709M1072 692L1100 666M1097.300 676V739.400M1102.300 677V739.400M1097.300 746V754M1102.300 744V754M1145 671.500V700.800M1098.400 773.400V801M1104.200 773.400V802.700L1122 780.700H1110.700M1098.400 801L1116 783M1084 780.700H1093.500M1083 783V837M1086.700 783V837"/>
<rect class="w" x="1112.600" y="662.600" width="17.100" height="7"/>
<rect class="w" x="1105.700" y="671.800" width="20.300" height="6.600"/>
<use href="#vv" x="1152.600" y="680.600"/><use href="#vv" x="1145" y="687"/><use href="#vv" x="1099.200" y="697"/><use href="#vv" x="1099.200" y="704.500"/>
<use href="#vh" x="1148.800" y="706.300"/><use href="#vh" x="1148.800" y="713.700"/>
<use href="#vv" x="1053.500" y="760.500"/><use href="#vv" x="1074.400" y="762.300"/>
<use href="#vh" x="1084.500" y="805"/><use href="#vh" x="1084.500" y="815"/>
<ellipse class="m" cx="1084" cy="855.400" rx="18" ry="19.300"/>
<path class="p" d="M1059 759.600H1095.400M1059 765H1095.400M1132.400 757.400H1146L1151 752H1158L1159 757.400H1176.700M1132.400 764.700H1144L1149 759H1156L1157 764.700H1176.700M1214.800 758H1232L1238 752H1245L1246 758H1258.300M1214.800 765H1230L1236 759H1244L1245 765H1258.300M1294.900 758H1310L1316 751.500H1323L1324 757H1336.500M1294.900 763H1308L1314 757H1322L1323 763H1336.500M1376.500 757.400H1388L1392 749H1400L1402 756H1414.700M1376.500 763H1386L1390 757H1400L1401 763H1414.700"/>
<path class="m" d="M1448 754.400H1455V765.500H1448M1444.400 764V774"/><path class="p" d="M1438.700 774.300H1448.200"/>
<g><rect class="w" x="1095.400" y="754.400" width="37" height="13.400"/><rect class="w" x="1176.700" y="753" width="38.100" height="13"/><rect class="w" x="1258.300" y="752" width="36.600" height="13"/><rect class="w" x="1336.500" y="751" width="40" height="13.700"/><rect class="w" x="1414.700" y="750" width="33.500" height="14"/></g>
<path class="m" d="M1095.400 761H1132.400M1176.700 759.500H1214.800M1258.300 758.500H1294.900M1336.500 757.800H1376.500M1414.700 757H1448.200"/>
<path class="t" d="M1087.800 766L1089.700 769H1267L1272 772.500L1276.600 769H1450L1457.800 766"/>
<path class="p" d="M1153.500 706.300H1160M1153.500 713.700H1160M1177.400 706.300H1190.800L1192 711H1204L1209.800 706.300H1220M1177.400 714H1188.900L1190.800 717.400H1204L1209.800 713.700H1220M1258.300 706.300H1269L1267 711H1280L1285.800 706.300H1298M1258.300 713.700H1267L1265 717.400H1278L1284 713.700H1298M1336.500 706.300H1347L1346 711H1358L1364 706.300H1378M1336.500 713.700H1346L1345 717.400H1357L1363 713.700H1378M1414 706.300H1426L1425 711H1436L1442 706.300H1452M1414 713.700H1425L1424 717.400H1435L1441 713.700H1452"/>
<g><rect class="w" x="1220" y="702.700" width="38.300" height="14.300"/><rect class="w" x="1298" y="701.800" width="38.500" height="14.600"/><rect class="w" x="1378" y="700.800" width="35.900" height="15.600"/><rect class="w" x="1452" y="700.800" width="32.400" height="14.200"/></g>
<path class="m" d="M1220 710H1258.300M1298 709H1336.500M1378 708.500H1413.900M1452 708H1484.400M1484.400 703.600H1491V712.200H1484.400M1478.700 715V721"/>
<path class="p" d="M1474 721.500H1483.500"/>
<path class="t" d="M1206 700.800L1211.700 696.600H1326L1335 691.600L1341.400 696.600H1484.400L1489.400 699M1013.400 625.200H1078.300L1112.600 662.600M1095 644L1105 672M979 662H1017M1009.600 673.700H1053.500M1015.300 662V673.700M1012.500 668L1015.300 673.700L1018 668M1016.500 691.300H1049.700L1068.700 686M1136.600 644H1199.500M1136.600 644L1145 672.400M1136.600 644L1152.600 675M1347 734.800L1385.300 735.700M1347 734.800L1351 715M1350 734.800L1357 715M1138 736.600L1186 735.400M1138 736.600L1147 716M1227 746.700H1267.800M1227 746.700L1217.500 756M1227 746.700L1223 761M1498.600 705.400H1531.400M1498.600 714H1531.400M1506 705.400V714M1503.500 709.500L1506 714L1508.500 709.500M1473 754H1513M1473 764.700H1513M1478.700 754V764.700M1476 760L1478.700 764.700L1481.500 760M1009.600 801L1061 800M1061 800L1053.500 763M1061 800L1072 763M1061 800L1050 763M1011.500 830.800L1052.300 830.300L1080 805M1052.300 830.300L1080 815M1074.400 858.700L1055.400 874.900L1004 923.400H815"/>
<text class="a f11" x="1048" y="623" textLength="66" lengthAdjust="spacingAndGlyphs">А1И010 000</text>
<text class="a f11" x="1049" y="637" textLength="40" lengthAdjust="spacingAndGlyphs">5.904-3</text>
<text class="a f12" x="998" y="661" textLength="38" lengthAdjust="spacingAndGlyphs">15.350</text>
<text class="a f10" x="1028" y="689" textLength="34" lengthAdjust="spacingAndGlyphs">ф20×2</text>
<text class="a f11" x="1166" y="641">ф15</text><text class="a f10" x="1172" y="655" textLength="54" lengthAdjust="spacingAndGlyphs">15кч18п2</text>
<text class="a f8" x="1170" y="708">T1</text><text class="a f8" x="1171" y="717">T2</text>
<text class="a f11" x="1265" y="733" textLength="44" lengthAdjust="spacingAndGlyphs">0,003&gt;</text>
<text class="a f11" x="1368" y="733" textLength="40" lengthAdjust="spacingAndGlyphs">ф20×2</text>
<text class="a f11" x="1158" y="734">ф15</text><text class="a f10" x="1164" y="748" textLength="54" lengthAdjust="spacingAndGlyphs">15кч18п2</text>
<text class="a f11" x="1248" y="745" textLength="40" lengthAdjust="spacingAndGlyphs">ф20×2</text>
<text class="a f10" x="1294" y="747" textLength="36" lengthAdjust="spacingAndGlyphs">0,003&gt;</text>
<text class="a f12" x="1519" y="703" textLength="38" lengthAdjust="spacingAndGlyphs">13.300</text>
<text class="a f12" x="1498" y="751" textLength="36" lengthAdjust="spacingAndGlyphs">13.300</text>
<text class="a f11" x="1033" y="798">ф15</text><text class="a f10" x="1038" y="812" textLength="52" lengthAdjust="spacingAndGlyphs">15кч18п2</text>
<text class="a f10" x="1034" y="828" textLength="44" lengthAdjust="spacingAndGlyphs">ф25×2,2</text>
<text class="a f9" transform="rotate(-90 1066 735)" x="1066" y="735">T2</text>
<text class="a f9" transform="rotate(-90 1072 728)" x="1072" y="728">T1</text>
<text class="a f9" transform="rotate(-90 1099 738)" x="1099" y="738">T2</text>
<text class="a f9" transform="rotate(-90 1107 728)" x="1107" y="728">T1</text>
<text class="a f14" x="889" y="921" textLength="142" lengthAdjust="spacingAndGlyphs">Узел управления</text>
<text class="a f12" x="895" y="936" textLength="68" lengthAdjust="spacingAndGlyphs">см. лист12</text>

<!-- detail 1 -->
<ellipse class="m" cx="624" cy="937.100" rx="15.700" ry="16.900"/><ellipse class="m" cx="624" cy="937.100" rx="13.500" ry="14.500"/>
<text class="a f12" x="624" y="942">1</text>
<path class="p" d="M516 1037.200H728.700"/>
<path class="m" d="M516 1033Q513 1037 515 1042M728.700 1033Q731 1037 728 1042"/>
<path class="m" d="M536.900 1037V1023H556.700M586.500 1022H611.600V1037M636 1037V1022.200H655.500M684.800 1022H707.700V1037M586.500 1006.400H592M684.800 1006.400H690"/>
<rect class="w" x="556.700" y="1001" width="29.800" height="26.400"/>
<rect class="w" x="655.500" y="1001.600" width="29.300" height="26.200"/>
<use href="#vh" x="598" y="1006.400"/><use href="#vh" x="696" y="1006.400"/><use href="#vh" x="596" y="1022"/><use href="#vh" x="693" y="1022"/>
<path class="m" d="M603 1002L610 1006.400L603 1011M701 1002L708 1006.400L701 1011"/>
<path class="t" d="M612.600 974.600H654.400M612.600 974.600L597 1005.200M709.300 974.600H724M709.300 974.600L697.300 1004.300M530.600 1057.300H572L594.300 1022M709.300 1056.200H751M709.300 1056.200L696.300 1023.900M631 1050.500H667.500M631 1050.500L623 1037"/>
<text class="a f11" x="627" y="972">ф15</text><text class="a f9" x="634" y="985" textLength="38" lengthAdjust="spacingAndGlyphs">15кч18п2</text>
<text class="a f11" x="730" y="972">ф15</text><text class="a f10" x="739" y="987" textLength="52" lengthAdjust="spacingAndGlyphs">15кч18п2</text>
<text class="a f11" x="554" y="1055">ф15</text><text class="a f8" x="554" y="1068" textLength="40" lengthAdjust="spacingAndGlyphs">11б25бк</text>
<text class="a f11" x="729" y="1055">ф15</text><text class="a f8" x="731" y="1068" textLength="40" lengthAdjust="spacingAndGlyphs">11б25бк</text>
<text class="a f11" x="649" y="1049" textLength="34" lengthAdjust="spacingAndGlyphs">ф20×2</text>

<!-- title block -->
<path class="fr" d="M1064.400 926H1549M1064.400 939.800H1236.500M1064.400 953.200H1236.500M1064.400 966.800H1549M1064.400 978.800H1236.500M893.600 992.600H1549M1064.400 1005.800H1236.500M1420 1005.800H1549M893.600 1019.400H1236.500M893.600 1032.800H1549M1064.400 1046H1236.500M893.600 1044H1064.400M893.600 1056.800H1064.400M1064.400 1058H1236.500"/>
<path class="m" d="M1064.400 926V1072M1109 926V1072M1169.500 926V1072M1210.600 926V1072M1236.500 926V1072M893.600 992.600V1072M937.400 1019.400V1056.800M998.700 1019.400V1072M1037.700 1019.400V1072M1420 992.600V1072M1458.500 992.600V1032.800M1498 992.600V1032.800"/>
<text class="f22" x="1304" y="959" textLength="168" lengthAdjust="spacingAndGlyphs">903-1-270.89 ОВ</text>
<text class="f12" x="1251" y="975" textLength="259" lengthAdjust="spacingAndGlyphs">Котельная с 4 котлами Е-10-1,4Р</text>
<text class="f12" x="1249" y="986" textLength="267" lengthAdjust="spacingAndGlyphs">Золошлакоудаление механическое</text>
<text class="f14" x="1258" y="1003.500" textLength="138" lengthAdjust="spacingAndGlyphs">Главный корпус</text>
<text class="f14" x="1242" y="1015" textLength="156" lengthAdjust="spacingAndGlyphs">Стеновые панели из</text>
<text class="f14" x="1253" y="1027.500" textLength="134" lengthAdjust="spacingAndGlyphs">лёгкого бетона</text>
<text class="f14" x="1244" y="1046.500" textLength="176" lengthAdjust="spacingAndGlyphs">Схемы систем отопле-</text>
<text class="f14" x="1260" y="1060.500" textLength="103" lengthAdjust="spacingAndGlyphs">ния N1 и N2</text>
<text class="f10" x="1421" y="1004" textLength="35" lengthAdjust="spacingAndGlyphs">Стадия</text>
<text class="f10" x="1463" y="1004" textLength="31" lengthAdjust="spacingAndGlyphs">Лист</text>
<text class="f10" x="1501" y="1004" textLength="46" lengthAdjust="spacingAndGlyphs">Листов</text>
<text class="a f16" x="1437" y="1022">Р</text><text class="a f16" x="1475" y="1022">6</text>
<text class="f11" x="1435" y="1041" textLength="98" lengthAdjust="spacingAndGlyphs">госстрой СССР</text>
<text class="f11" x="1433" y="1052" textLength="88" lengthAdjust="spacingAndGlyphs">Харьковский</text>
<text class="f13" x="1429" y="1065.500" textLength="118" lengthAdjust="spacingAndGlyphs">САНТЕХПРОЕКТ</text>
<g class="f10">
<text x="1066" y="991" textLength="42" lengthAdjust="spacingAndGlyphs">Нач.отд</text><text x="1111" y="991" textLength="35" lengthAdjust="spacingAndGlyphs">Манц</text>
<text x="1066" y="1004" textLength="42" lengthAdjust="spacingAndGlyphs">Н контр.</text><text x="1112" y="1004" textLength="36" lengthAdjust="spacingAndGlyphs">Рябой</text>
<text x="1066" y="1017" textLength="42" lengthAdjust="spacingAndGlyphs">Гл.спец.</text><text x="1112" y="1017" textLength="36" lengthAdjust="spacingAndGlyphs">Рябой</text>
<text x="1066" y="1030" textLength="40" lengthAdjust="spacingAndGlyphs">Рук. гр.</text><text x="1112" y="1030" textLength="44" lengthAdjust="spacingAndGlyphs">Элькина</text>
<text x="1066" y="1043.500" textLength="40" lengthAdjust="spacingAndGlyphs">Инж.Iк.</text><text x="1112" y="1043.500" textLength="52" lengthAdjust="spacingAndGlyphs">Давыдова</text>
</g>
<text class="f11" x="896" y="1002" textLength="62" lengthAdjust="spacingAndGlyphs">Привязан:</text>
<text class="f10" x="896" y="1067" textLength="30" lengthAdjust="spacingAndGlyphs">Инв.№</text>
<text class="f13" x="1341" y="1083" textLength="66" lengthAdjust="spacingAndGlyphs">23935-13</text><text class="f13" x="1421" y="1083">9</text>
<path class="m" d="M1183 1000Q1178 990 1186 986Q1193 992 1186 1006Q1182 1010 1194 1001M1183 1016Q1180 1007 1187 1005Q1192 1012 1186 1018L1197 1014M1180 1030L1183 1025L1184 1031M1187 1027L1188 1031M1176 1042L1180 1038M1184 1041L1187 1037M1192 1042L1194 1038"/>
</svg>
</body></html>
